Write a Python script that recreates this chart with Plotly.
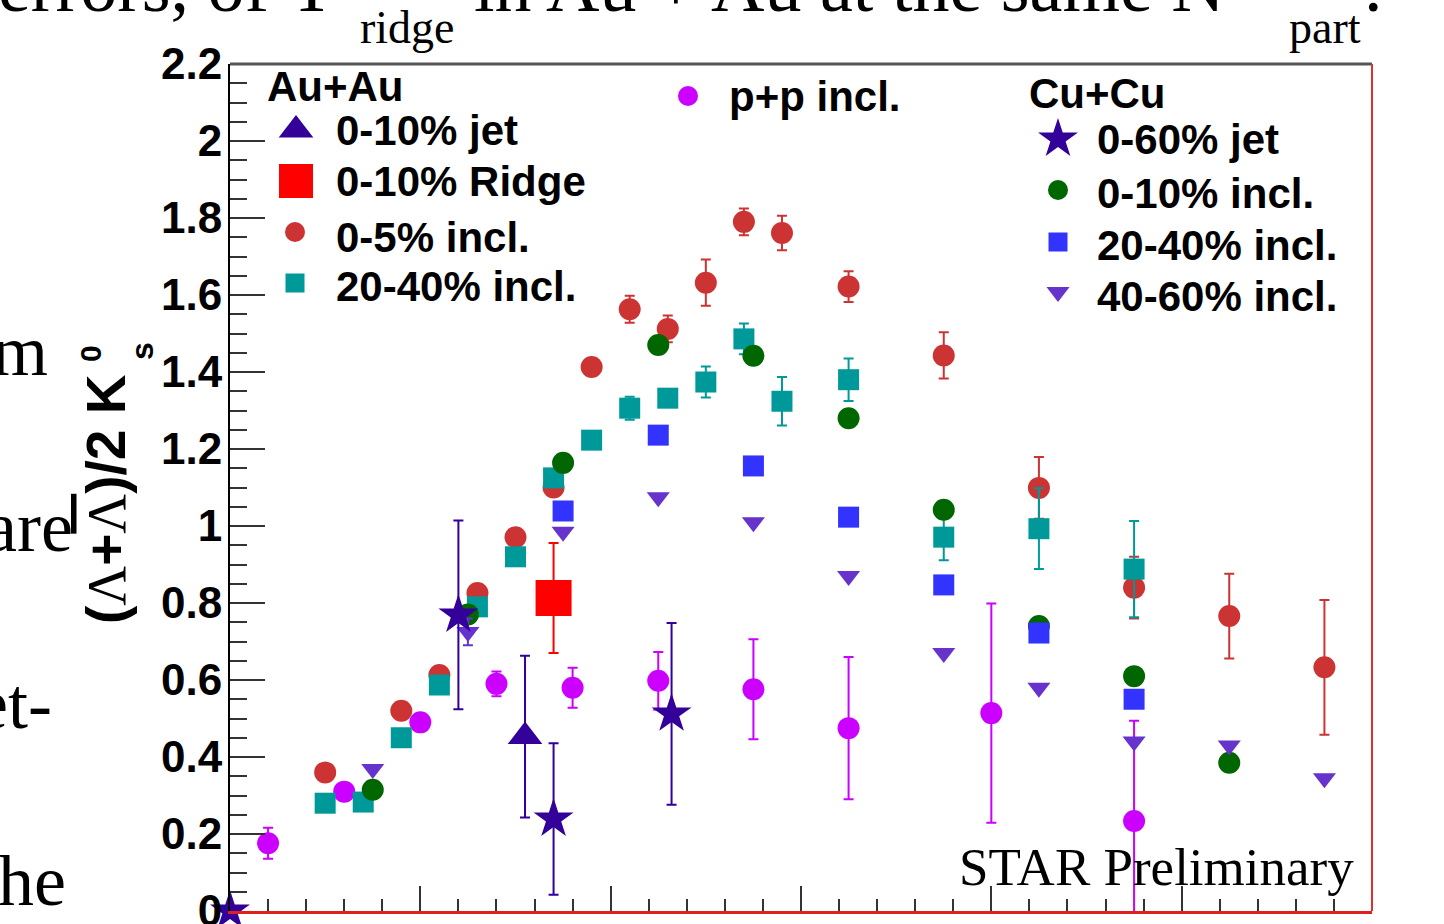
import plotly.graph_objects as go

# ---------------- data ----------------
# Au+Au 0-5% inclusive (red circles)
aa05_x = [0.5, 0.9, 1.1, 1.3, 1.5, 1.7, 1.9, 2.1, 2.3, 2.5, 2.7, 2.9, 3.25, 3.75, 4.25, 4.75, 5.25, 5.75]
aa05_y = [0.36, 0.52, 0.613, 0.826, 0.971, 1.10, 1.413, 1.563, 1.512, 1.632, 1.79, 1.761, 1.622, 1.443, 1.099, 0.84, 0.766, 0.633]
aa05_e = [0.01, 0.01, 0.01, 0.01, 0.01, 0.015, 0.015, 0.035, 0.035, 0.06, 0.035, 0.045, 0.04, 0.06, 0.08, 0.08, 0.11, 0.175]

# Au+Au 20-40% inclusive (teal squares)
aa2040_x = [0.5, 0.7, 0.9, 1.1, 1.3, 1.5, 1.7, 1.9, 2.1, 2.3, 2.5, 2.7, 2.9, 3.25, 3.75, 4.25, 4.75]
aa2040_y = [0.28, 0.283, 0.45, 0.587, 0.79, 0.92, 1.125, 1.223, 1.306, 1.332, 1.374, 1.486, 1.324, 1.38, 0.971, 0.993, 0.888]
aa2040_e = [0.005, 0.005, 0.01, 0.01, 0.01, 0.01, 0.015, 0.015, 0.03, 0.02, 0.04, 0.04, 0.063, 0.055, 0.06, 0.105, 0.125]

# p+p inclusive (magenta circles)
pp_x = [0.2, 0.6, 1.0, 1.4, 1.8, 2.25, 2.75, 3.25, 4.0, 4.75]
pp_y = [0.176, 0.31, 0.49, 0.59, 0.58, 0.598, 0.576, 0.475, 0.514, 0.234]
pp_e = [0.04, 0.01, 0.01, 0.032, 0.052, 0.075, 0.13, 0.185, 0.285, 0.26]

# Cu+Cu 0-10% inclusive (green circles)
cu010_x = [0.75, 1.25, 1.75, 2.25, 2.75, 3.25, 3.75, 4.25, 4.75, 5.25]
cu010_y = [0.315, 0.77, 1.164, 1.47, 1.442, 1.28, 1.042, 0.74, 0.61, 0.385]

# Cu+Cu 20-40% inclusive (blue squares)
cu2040_x = [1.75, 2.25, 2.75, 3.25, 3.75, 4.25, 4.75]
cu2040_y = [1.039, 1.236, 1.156, 1.023, 0.847, 0.722, 0.55]

# Cu+Cu 40-60% inclusive (purple down-triangles)
cu4060_x = [0.75, 1.25, 1.75, 2.25, 2.75, 3.25, 3.75, 4.25, 4.75, 5.25, 5.75]
cu4060_y = [0.369, 0.725, 0.985, 1.075, 1.01, 0.87, 0.67, 0.58, 0.44, 0.43, 0.345]
cu4060_e = [0.0, 0.035, 0.0, 0.0, 0.0, 0.0, 0.0, 0.0, 0.0, 0.0, 0.0]

# Cu+Cu 0-60% jet (stars)
cujet_x = [0.0, 1.2, 1.7, 2.32]
cujet_y = [0.0, 0.769, 0.239, 0.512]
cujet_e = [0.0, 0.245, 0.197, 0.236]

# Au+Au 0-10% jet (triangle) and ridge (square)
aajet_x = [1.55]
aajet_y = [0.453]
aajet_e = [0.21]
aaridge_x = [1.70]
aaridge_y = [0.813]
aaridge_e = [0.143]

ytick_vals = [0, 0.2, 0.4, 0.6, 0.8, 1.0, 1.2, 1.4, 1.6, 1.8, 2.0, 2.2]
ytick_text = ["0", "0.2", "0.4", "0.6", "0.8", "1", "1.2", "1.4", "1.6", "1.8", "2", "2.2"]
xtick_vals = [0, 1, 2, 3, 4, 5, 6]
xtick_text = ["0", "1", "2", "3", "4", "5", "6"]

# ---------------- colours ----------------
C_RED = "#cc3333"
C_TEAL = "#009999"
C_MAG = "#cc00ff"
C_GREEN = "#006600"
C_BLUE = "#3333ff"
C_PURP = "#6633cc"
C_IND = "#330099"
C_RSQ = "#ff0000"

W, H = 1444, 924
X0, X1 = 230, 1372
Y0, Y1 = 911, 64

SANS = "Liberation Sans"
SERIF = "Liberation Serif"

fig = go.Figure()


def add_series(x, y, err, color, symbol, size, clip=True):
    ey = dict(type="data", array=err, visible=True, color=color, thickness=2, width=5) if err is not None else dict(visible=False)
    fig.add_trace(go.Scatter(
        x=x, y=y, mode="markers", showlegend=False, cliponaxis=clip,
        marker=dict(color=color, symbol=symbol, size=size, line=dict(width=0)),
        error_y=ey, xaxis="x", yaxis="y"))


add_series(aa05_x, aa05_y, aa05_e, C_RED, "circle", 22)
add_series(pp_x, pp_y, pp_e, C_MAG, "circle", 22)
add_series(aa2040_x, aa2040_y, aa2040_e, C_TEAL, "square", 21)
add_series(cu010_x, cu010_y, None, C_GREEN, "circle", 22)
add_series(cu2040_x, cu2040_y, None, C_BLUE, "square", 21)
add_series(cu4060_x, cu4060_y, cu4060_e, C_PURP, "triangle-down", 20)
add_series(cujet_x, cujet_y, cujet_e, C_IND, "star", 30, clip=False)
add_series(aajet_x, aajet_y, aajet_e, C_IND, "triangle-up", 30)
add_series(aaridge_x, aaridge_y, aaridge_e, C_RSQ, "square", 36)

# ---------------- legend keys (pixel overlay axis) ----------------
leg_keys = [
    (296, 130, C_IND, "triangle-up", 30),
    (296, 181, C_RSQ, "square", 34),
    (295, 232, C_RED, "circle", 20),
    (295, 283, C_TEAL, "square", 19),
    (688, 96, C_MAG, "circle", 20),
    (1058, 139, C_IND, "star", 30),
    (1058, 190, C_GREEN, "circle", 20),
    (1058, 242, C_BLUE, "square", 19),
    (1058, 292, C_PURP, "triangle-down", 20),
]
for kx, ky, kc, ks, kz in leg_keys:
    fig.add_trace(go.Scatter(x=[kx], y=[ky], mode="markers", showlegend=False,
                             marker=dict(color=kc, symbol=ks, size=kz, line=dict(width=0)),
                             xaxis="x2", yaxis="y2", cliponaxis=False))

ann = []


def txt(x, y, s, size, family=SANS, bold=True, xanchor="left", angle=0, yanchor="middle"):
    ann.append(dict(x=x / W, y=1 - y / H, xref="paper", yref="paper", text=s, showarrow=False,
                    xanchor=xanchor, yanchor=yanchor, textangle=angle,
                    font=dict(family=family, size=size, color="black", weight="bold" if bold else "normal")))


LF = 42
txt(265, 87, "Au+Au", LF)
txt(334, 130, "0-10% jet", LF)
txt(334, 181, "0-10% Ridge", LF)
txt(334, 237, "0-5% incl.", LF)
txt(334, 286, "20-40% incl.", LF)
txt(727, 96, "p+p incl.", LF)
txt(1027, 93, "Cu+Cu", LF)
txt(1095, 139, "0-60% jet", LF)
txt(1095, 194, "0-10% incl.", LF)
txt(1095, 246, "20-40% incl.", LF)
txt(1095, 297, "40-60% incl.", LF)

# STAR Preliminary
txt(957, 867, "STAR Preliminary", 53, family=SERIF, bold=False)

# y-axis title (rotated)
lam = "<span style=\"font-family:'Liberation Serif';font-weight:normal\">\u039b</span>"
lamb = "<span style=\"font-family:'Liberation Serif';font-weight:normal;text-decoration:overline\">\u039b</span>"
txt(106, 499, "(" + lam + "+" + lamb + ")/2 K", 55, angle=-90, xanchor="center")
txt(90, 354, "0", 30, angle=-90, xanchor="center")
txt(142, 351, "s", 32, angle=-90, xanchor="center")

# slide text fragments around the chart
txt(-4, -14, "errors, of Y", 74, family=SERIF, bold=False)
txt(472, -14, "in Au + Au at the same N", 74, family=SERIF, bold=False)
txt(1362, -14, ".", 74, family=SERIF, bold=False)
txt(358, 27, "ridge", 46, family=SERIF, bold=False)
txt(1287, 27, "part", 46, family=SERIF, bold=False)
txt(50, 351, "m", 72, family=SERIF, bold=False, xanchor="right")
txt(75, 527, "are", 72, family=SERIF, bold=False, xanchor="right")
txt(54, 704, "et-", 72, family=SERIF, bold=False, xanchor="right")
txt(68, 881, "he", 72, family=SERIF, bold=False, xanchor="right")

shapes = [
    dict(type="line", xref="paper", yref="paper", x0=X0 / W, x1=X1 / W, y0=1 - Y1 / H, y1=1 - Y1 / H,
         line=dict(color="#555555", width=3)),
    dict(type="line", xref="paper", yref="paper", x0=X1 / W, x1=X1 / W, y0=1 - Y1 / H, y1=1 - Y0 / H,
         line=dict(color="#e03030", width=2)),
]

fig.update_layout(
    template="none",
    width=W, height=H,
    margin=dict(l=0, r=0, t=0, b=0, pad=0, autoexpand=False),
    paper_bgcolor="white", plot_bgcolor="rgba(0,0,0,0)",
    showlegend=False,
    annotations=ann, shapes=shapes,
    xaxis=dict(domain=[X0 / W, X1 / W], range=[0, 6], anchor="y", automargin=False,
               tickmode="array", tickvals=xtick_vals, ticktext=xtick_text,
               ticks="inside", ticklen=25, tickwidth=2, tickcolor="#333333",
               showline=True, linecolor="#e02020", linewidth=3,
               showgrid=False, zeroline=False, ticklabeloverflow="allow",
               tickfont=dict(family=SANS, size=44, color="black", weight="bold"),
               minor=dict(dtick=0.2, ticks="inside", ticklen=12, tickwidth=2, tickcolor="#333333", showgrid=False)),
    yaxis=dict(domain=[1 - Y0 / H, 1 - Y1 / H], range=[0, 2.2], anchor="x", automargin=False,
               tickmode="array", tickvals=ytick_vals, ticktext=ytick_text,
               ticks="inside", ticklen=35, tickwidth=2, tickcolor="#333333",
               showline=True, linecolor="black", linewidth=2,
               showgrid=False, zeroline=False, ticklabelstandoff=-3, ticklabeloverflow="allow",
               tickfont=dict(family=SANS, size=44, color="black", weight="bold"),
               minor=dict(dtick=0.05, ticks="inside", ticklen=17, tickwidth=2, tickcolor="#333333", showgrid=False)),
    xaxis2=dict(domain=[0, 1], range=[0, W], anchor="y2", visible=False, fixedrange=True, automargin=False),
    yaxis2=dict(domain=[0, 1], range=[H, 0], anchor="x2", visible=False, fixedrange=True, automargin=False),
)

fig.write_html("out.html")
